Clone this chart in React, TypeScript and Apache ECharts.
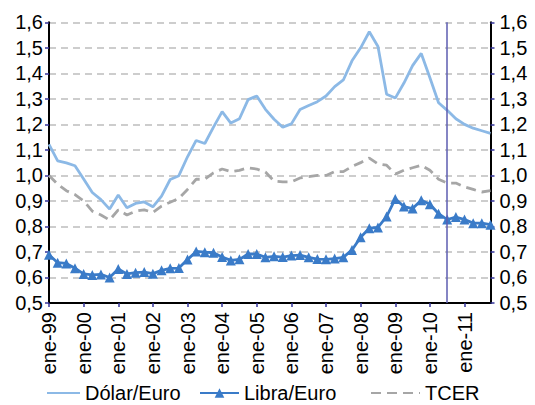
import React, { useEffect, useRef } from "react";
import * as echarts from "echarts";

const years = ["99", "00", "01", "02", "03", "04", "05", "06", "07", "08", "09", "10", "11"];
const quarters = ["ene", "abr", "jul", "oct"];
const categories: string[] = [];
years.forEach((y) => quarters.forEach((q) => categories.push(`${q}-${y}`)));

const dolarEuro = [
  1.122, 1.057, 1.049, 1.038, 0.986, 0.933, 0.905, 0.868, 0.923, 0.873, 0.89, 0.896,
  0.877, 0.919, 0.984, 0.999, 1.073, 1.137, 1.125, 1.189, 1.25, 1.205, 1.222, 1.297,
  1.311, 1.259, 1.22, 1.189, 1.202, 1.258, 1.274, 1.289, 1.311, 1.348, 1.374, 1.449,
  1.5, 1.563, 1.505, 1.318, 1.303, 1.362, 1.43, 1.478, 1.383, 1.285, 1.255, 1.222,
  1.2, 1.185, 1.175, 1.165,
];
const libraEuro = [
  0.689, 0.658, 0.655, 0.636, 0.614, 0.61, 0.612, 0.6, 0.633, 0.614, 0.619, 0.621,
  0.615, 0.628, 0.636, 0.637, 0.67, 0.702, 0.699, 0.697, 0.68, 0.667, 0.671, 0.692,
  0.692, 0.679, 0.683, 0.68, 0.686, 0.688, 0.679, 0.672, 0.671, 0.674, 0.679, 0.708,
  0.758, 0.793, 0.796, 0.839, 0.908, 0.878, 0.87, 0.903, 0.887, 0.85, 0.827, 0.837,
  0.827, 0.813, 0.813, 0.807,
];
const tcer = [
  1.0, 0.965, 0.94, 0.925, 0.9, 0.86, 0.845, 0.825, 0.865, 0.845, 0.86, 0.865,
  0.855, 0.88, 0.895, 0.91, 0.945, 0.985, 0.985, 1.01, 1.025, 1.015, 1.02, 1.03,
  1.025, 1.013, 0.978, 0.975, 0.975, 0.99, 0.995, 1.0, 1.0, 1.015, 1.015, 1.035,
  1.05, 1.068, 1.045, 1.04, 1.005, 1.02, 1.03, 1.04, 1.02, 0.985, 0.97, 0.97,
  0.955, 0.945, 0.935, 0.94,
];
const forecastStart = "jul-10";

const FONT = "Arial, 'Liberation Sans', sans-serif";

export default function App() {
  const ref = useRef<HTMLDivElement>(null);
  useEffect(() => {
    if (!ref.current) return;
    const chart = echarts.init(ref.current, undefined, { renderer: "svg" });
    const yAxisBase = {
      type: "value",
      min: 0.5,
      max: 1.6,
      interval: 0.1,
      axisLine: { show: true, lineStyle: { color: "#000", width: 2 } },
      axisTick: { show: true, length: 4, lineStyle: { color: "#33339a", width: 1.5 } },
      splitLine: { show: true, lineStyle: { color: "#bdbdbd", width: 1.5, type: [7, 5] } },
      axisLabel: {
        color: "#000",
        fontSize: 20,
        fontFamily: FONT,
        formatter: (v: number) => v.toFixed(1).replace(".", ","),
      },
    };
    const legendBase = {
      top: 383,
      itemHeight: 12,
      itemGap: 0,
      padding: 0,
      textStyle: { color: "#000", fontSize: 20, lineHeight: 19, fontFamily: FONT },
    };
    chart.setOption({
      animation: false,
      grid: { left: 49, right: 44.5, top: 22.3, bottom: 102 },
      legend: [
        { ...legendBase, left: 46, itemWidth: 33, itemStyle: { opacity: 0 }, data: ["Dólar/Euro"] },
        { ...legendBase, left: 199, itemWidth: 39, data: ["Libra/Euro"] },
        { ...legendBase, left: 370, itemWidth: 49, itemStyle: { opacity: 0 }, data: ["TCER"] },
      ],
      xAxis: {
        type: "category",
        data: categories,
        boundaryGap: false,
        axisLine: { show: true, lineStyle: { color: "#000", width: 2 } },
        axisTick: {
          show: true,
          length: 4,
          interval: (i: number) => i % 4 === 0,
          lineStyle: { color: "#33339a", width: 1.5 },
        },
        axisLabel: {
          interval: (i: number) => i % 4 === 0,
          rotate: 90,
          margin: 9,
          color: "#000",
          fontSize: 20,
          fontFamily: FONT,
        },
        splitLine: { show: false },
      },
      yAxis: [
        { ...yAxisBase, position: "left", axisLabel: { ...yAxisBase.axisLabel, margin: 6 } },
        {
          ...yAxisBase,
          position: "right",
          splitLine: { show: false },
          axisLabel: { ...yAxisBase.axisLabel, margin: 9 },
        },
      ],
      series: [
        {
          name: "Dólar/Euro",
          type: "line",
          data: dolarEuro,
          showSymbol: false,
          symbol: "none",
          lineStyle: { color: "#8cb9e6", width: 2.8 },
          itemStyle: { color: "#8cb9e6" },
          markLine: {
            silent: true,
            symbol: "none",
            label: { show: false },
            lineStyle: { color: "#5c5cb0", width: 1.5, type: "solid" },
            data: [{ xAxis: forecastStart }],
          },
          z: 3,
        },
        {
          name: "Libra/Euro",
          type: "line",
          data: libraEuro,
          symbol: "triangle",
          symbolSize: 10,
          showAllSymbol: true,
          lineStyle: { color: "#3a7bc8", width: 2.8 },
          itemStyle: { color: "#3a7bc8" },
          z: 4,
        },
        {
          name: "TCER",
          type: "line",
          data: tcer,
          showSymbol: false,
          symbol: "none",
          lineStyle: { color: "#a6a6a6", width: 2.8, type: [10, 6] },
          itemStyle: { color: "#a6a6a6" },
          z: 2,
        },
      ],
    });
    return () => chart.dispose();
  }, []);
  return <div ref={ref} style={{ width: 535, height: 405, position: "absolute", left: 0, top: 0 }} />;
}
